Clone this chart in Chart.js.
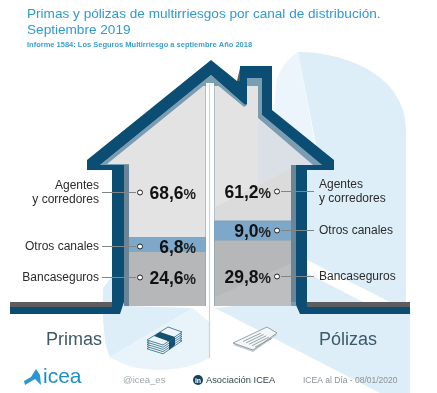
<!DOCTYPE html>
<html>
<head>
    <title>Primas y pólizas de multirriesgos</title>
    <script src="https://cdn.jsdelivr.net/npm/chart.js"></script>
    <style>
        html, body { margin: 0; background: #fff; }
        canvas { display: block; }
    </style>
</head>
<body>
    <canvas id="houseChart" width="437" height="393"></canvas>

    <script>
        const categories = ['Primas', 'Pólizas'];
        const bancaseguros = [24.6, 29.8];
        const otrosCanales = [6.8, 9.0];
        const agentes = [68.6, 61.2];

        const titleLines = ['Primas y pólizas de multirriesgos por canal de distribución.', 'Septiembre 2019'];
        const subtitle = 'Informe 1584: Los Seguros Multirriesgo a septiembre Año 2018';

        const font = '"Liberation Sans", Arial, sans-serif';

        // house drawing, pixel coordinates of the decoration only
        const navyBand = [[10,307],[112,307],[112,170],[87,170],[87,160],[211,60],[237,81],[240,81],[240,66],[272,66],[272,110],
            [334,160],[334,170],[307,170],[307,307],[410,307],[410,314],[300,314],[296,305],[296,165],[322,165],[262,115],
            [262,78],[247,78],[247,104],[245,105],[211,75],[100,165],[124,165],[124,302],[120,314],[10,314]];
        const shadeArea = [[211,75],[245,105],[247,104],[247,78],[262,78],[262,115],[322,165],[296,165],[296,306],[124,306],[124,165],[100,165]];
        const insideHouse = [[207,83],[107,164],[129,164],[129,306],[291,306],[291,165],[313,165],[258,118],[258,83],[247,83],[247,105],[244,107],[215,83]];

        // y of the leader lines, left and right column
        const rowAgentes = [192, 191];
        const rowOtros = [246, 230];
        const rowBanca = [277, 276];

        function poly(ctx, pts, color) {
            ctx.beginPath();
            pts.forEach((p, i) => i ? ctx.lineTo(p[0], p[1]) : ctx.moveTo(p[0], p[1]));
            ctx.closePath();
            ctx.fillStyle = color;
            ctx.fill();
        }

        function text(ctx, str, x, y, style, color, align) {
            ctx.font = style + ' ' + font;
            ctx.fillStyle = color;
            ctx.textAlign = align || 'left';
            ctx.textBaseline = 'alphabetic';
            ctx.fillText(str, x, y);
        }

        function drawBackground(ctx) {
            ctx.fillStyle = '#fff';
            ctx.fillRect(0, 0, 437, 393);
            // big pale logo behind the house
            ctx.beginPath();
            ctx.moveTo(298, 52);
            ctx.quadraticCurveTo(282, 62, 276, 82);
            ctx.lineTo(270, 170);
            ctx.lineTo(316, 150);
            ctx.closePath();
            ctx.fillStyle = '#ebf5fb';
            ctx.fill();
            ctx.beginPath();
            ctx.moveTo(298, 52);
            ctx.bezierCurveTo(345, 52, 406, 75, 406, 130);
            ctx.lineTo(406, 307);
            ctx.lineTo(410, 314);
            ctx.lineTo(410, 393);
            ctx.lineTo(380, 393);
            ctx.lineTo(215, 308);
            ctx.lineTo(296, 300);
            ctx.lineTo(296, 165);
            ctx.lineTo(316, 145);
            ctx.closePath();
            ctx.fillStyle = '#ddeef8';
            ctx.fill();
            poly(ctx, [[307,260],[390,302],[363,302],[307,273]], '#fff');
            ctx.beginPath();
            ctx.moveTo(129, 255);
            ctx.lineTo(103, 288);
            ctx.bezierCurveTo(102, 320, 104, 345, 110, 357);
            ctx.lineTo(193, 308);
            ctx.lineTo(129, 306);
            ctx.closePath();
            ctx.fillStyle = '#ddeef8';
            ctx.fill();
            ctx.beginPath();
            ctx.moveTo(110, 357);
            ctx.bezierCurveTo(135, 375, 185, 373, 209, 358);
            ctx.lineTo(209, 322);
            ctx.lineTo(193, 308);
            ctx.closePath();
            ctx.fillStyle = '#e9f4fa';
            ctx.fill();
        }

        function drawHeader(ctx) {
            text(ctx, titleLines[0], 27, 18, '13.6px', '#2f9ad0');
            text(ctx, titleLines[1], 27, 34, '13.6px', '#2f9ad0');
            text(ctx, subtitle, 27, 47, 'bold 7.5px', '#3a9fd2');
        }

        function drawMoney(ctx) {
            const plate = [[147,340],[168,327],[182,332],[163,345]];
            for (let i = 4; i >= 0; i--) {
                const layer = plate.map(p => [p[0], p[1] + i * 2.2]);
                poly(ctx, layer, '#edf5fa');
                ctx.strokeStyle = '#2c6584';
                ctx.lineWidth = 0.8;
                ctx.stroke();
            }
            poly(ctx, [[154,336],[160,332],[175,337],[169,341.5]], '#14506f');
            poly(ctx, [[169,341.5],[175,337],[175,345],[169,350]], '#14506f');
        }

        function drawDocument(ctx) {
            const sheet = [[233,343],[267,327],[277,333],[253,350]];
            poly(ctx, sheet.map(p => [p[0], p[1] + 2]), '#c5cccf');
            poly(ctx, sheet, '#f4f7f8');
            ctx.strokeStyle = '#8d9a9f';
            ctx.lineWidth = 0.9;
            ctx.stroke();
            ctx.beginPath();
            [0, 1, 2, 3, 4].forEach(i => {
                ctx.moveTo(243 + i * 3, 342 + i * 1.4 - 0.5);
                ctx.lineTo(261 + i * 2.6, 333 + i * 1.4);
            });
            ctx.stroke();
        }

        function drawFooter(ctx) {
            poly(ctx, [[36,369],[40,375],[41,385],[35,379],[25,385],[24,381],[31,377]], '#2a97d3');
            text(ctx, 'icea', 43, 383, '21px', '#1d8ec6');
            text(ctx, '@icea_es', 123, 383, '9.5px', '#9aa6ad');
            ctx.beginPath();
            ctx.arc(198, 380, 5, 0, Math.PI * 2);
            ctx.fillStyle = '#14435f';
            ctx.fill();
            text(ctx, 'in', 198, 382.5, 'bold 7px', '#fff', 'center');
            text(ctx, 'Asociación ICEA', 206, 383, '9.3px', '#33454f');
            text(ctx, 'ICEA al Día - 08/01/2020', 303, 383, '8.5px', '#8b9196');
        }

        // leader line, dot, value and channel name for one segment
        function drawRow(ctx, idx, y, value, nameLines) {
            const left = idx === 0;
            const dotX = left ? 140 : 277;
            ctx.strokeStyle = '#7f8688';
            ctx.lineWidth = 1;
            ctx.beginPath();
            ctx.moveTo(left ? 102 : 281, y + 0.5);
            ctx.lineTo(left ? 136 : 314, y + 0.5);
            ctx.stroke();
            ctx.beginPath();
            ctx.arc(dotX, y + 0.5, 2.5, 0, Math.PI * 2);
            ctx.fillStyle = '#fff';
            ctx.fill();
            ctx.strokeStyle = '#222';
            ctx.stroke();

            const valueEnd = left ? 196 : 271;
            text(ctx, '%', valueEnd, y + 7, 'bold 14px', '#222', 'right');
            const pct = ctx.measureText('%').width;
            text(ctx, value.toFixed(1).replace('.', ','), valueEnd - pct, y + 7, 'bold 17.5px', '#111', 'right');

            const lineY = nameLines.length > 1 ? y - 3 : y + 4;
            nameLines.forEach((name, i) => {
                text(ctx, name, left ? 99 : 319, lineY + i * 14, '12px', '#2b2b2b', left ? 'right' : 'left');
            });
        }

        const housePlugin = {
            id: 'house',
            beforeDraw(chart) {
                const ctx = chart.ctx;
                drawBackground(ctx);
                drawHeader(ctx);
                poly(ctx, shadeArea, '#7b9db2');
                ctx.fillStyle = '#fff';
                ctx.fillRect(206, 83, 8, 224);
            },
            beforeDatasetsDraw(chart) {
                const ctx = chart.ctx;
                ctx.save();
                ctx.beginPath();
                insideHouse.forEach((p, i) => i ? ctx.lineTo(p[0], p[1]) : ctx.moveTo(p[0], p[1]));
                ctx.closePath();
                ctx.clip();
            },
            afterDatasetsDraw(chart) {
                const ctx = chart.ctx;
                // the pale logo showing faintly through the grey
                poly(ctx, [[215,207],[292,168],[292,222],[215,222]], 'rgba(0,0,0,0.03)');
                poly(ctx, [[258,120],[313,165],[292,168],[258,185]], 'rgba(190,215,235,0.25)');
                poly(ctx, [[215,297],[292,263],[292,306],[215,306]], 'rgba(255,255,255,0.1)');
                ctx.restore();

                poly(ctx, navyBand, '#0b4d73');
                poly(ctx, [[237,81],[240,81],[240,68]], '#5f5a55');
                ctx.fillStyle = '#5d5d5f';
                ctx.fillRect(10, 302, 102, 5);
                ctx.fillRect(307, 302, 103, 5);
                // wall sides a bit greyer than the roof
                ctx.fillStyle = '#6b8496';
                ctx.fillRect(124, 165, 5, 141);
                ctx.fillRect(291, 165, 5, 137);

                ctx.strokeStyle = '#cfd3d6';
                ctx.lineWidth = 1.2;
                ctx.beginPath();
                ctx.moveTo(209.5, 84);
                ctx.lineTo(209.5, 358);
                ctx.stroke();

                categories.forEach((name, idx) => {
                    drawRow(ctx, idx, rowAgentes[idx], agentes[idx], ['Agentes', 'y corredores']);
                    drawRow(ctx, idx, rowOtros[idx], otrosCanales[idx], ['Otros canales']);
                    drawRow(ctx, idx, rowBanca[idx], bancaseguros[idx], ['Bancaseguros']);
                    text(ctx, name, idx === 0 ? 46 : 319, 345, '18px', '#3c596b');
                });

                drawMoney(ctx);
                drawDocument(ctx);
                drawFooter(ctx);
            }
        };

        new Chart(document.getElementById('houseChart').getContext('2d'), {
            type: 'bar',
            data: {
                labels: categories,
                datasets: [
                    { label: 'Bancaseguros', data: bancaseguros, backgroundColor: '#b5b7b8' },
                    { label: 'Otros canales', data: otrosCanales, backgroundColor: '#7ea8c9' },
                    { label: 'Agentes y corredores', data: agentes, backgroundColor: '#e3e3e3' }
                ]
            },
            options: {
                responsive: false,
                animation: false,
                layout: { padding: { left: 90, right: 107, top: 86, bottom: 87 } },
                datasets: { bar: { categoryPercentage: 1, barPercentage: 0.925 } },
                plugins: { legend: { display: false }, tooltip: { enabled: false }, title: { display: false } },
                scales: {
                    x: { stacked: true, display: false },
                    y: { stacked: true, display: false, min: 0, max: 100 }
                }
            },
            plugins: [housePlugin]
        });
    </script>
</body>
</html>
